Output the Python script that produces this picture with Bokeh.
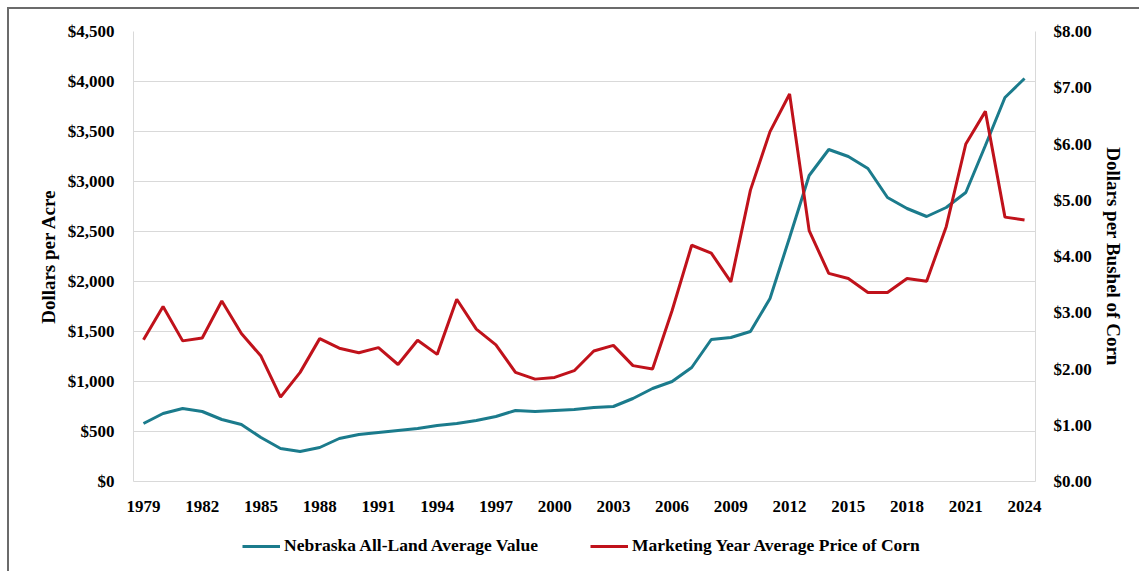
from bokeh.plotting import figure
from bokeh.layouts import column
from bokeh.models import (Range1d, LinearAxis, FixedTicker, NumeralTickFormatter,
                          Legend, LegendItem, ColumnDataSource)
from bokeh.embed import file_html
from bokeh.resources import INLINE

years = list(range(1979, 2025))
land_value = [580, 680, 730, 700, 620, 570, 440, 330, 300, 340,
              430, 470, 490, 510, 530, 560, 580, 610, 650, 710,
              700, 710, 720, 740, 750, 830, 930, 1000, 1140, 1420,
              1440, 1500, 1830, 2440, 3060, 3320, 3250, 3130, 2840, 2730,
              2650, 2740, 2890, 3360, 3840, 4030]
corn_price = [2.52, 3.11, 2.50, 2.55, 3.21, 2.63, 2.23, 1.50, 1.94, 2.54,
              2.37, 2.29, 2.38, 2.08, 2.51, 2.26, 3.24, 2.71, 2.43, 1.94,
              1.82, 1.85, 1.97, 2.32, 2.42, 2.06, 2.00, 3.04, 4.20, 4.06,
              3.55, 5.18, 6.22, 6.89, 4.46, 3.70, 3.61, 3.36, 3.36, 3.61,
              3.56, 4.53, 6.00, 6.58, 4.70, 4.65]
series_names = ["Nebraska All-Land Average Value", "Marketing Year Average Price of Corn"]
x_ticks = list(range(1979, 2025, 3))
left_ticks = list(range(0, 4501, 500))
right_ticks = list(range(0, 9))

FONT = "Liberation Serif"
GRID = "#d9d9d9"
BLUE = "#1b7b8c"
RED = "#c0121b"

src = ColumnDataSource(dict(year=years, land=land_value, corn=corn_price))

p = figure(frame_width=902, frame_height=450, output_backend="svg", toolbar_location=None,
           x_range=Range1d(1978.49, 2024.56), y_range=Range1d(0, 4500),
           min_border_left=124, min_border_right=104, min_border_top=22, min_border_bottom=40,
           background_fill_color="white", border_fill_color="white")
p.outline_line_color = None
p.extra_y_ranges = {"corn": Range1d(0, 8)}

r1 = p.line("year", "land", source=src, line_color=BLUE, line_width=3)
r2 = p.line("year", "corn", source=src, line_color=RED, line_width=3, y_range_name="corn")

# grid
p.xgrid.grid_line_color = None
p.ygrid.grid_line_color = GRID
p.ygrid.grid_line_width = 1
p.ygrid.ticker = FixedTicker(ticks=left_ticks)

def style_axis(ax):
    ax.axis_line_color = GRID
    ax.axis_line_width = 1
    ax.major_tick_line_color = None
    ax.minor_tick_line_color = None
    ax.major_tick_out = 0
    ax.major_tick_in = 0
    ax.major_label_text_font = FONT
    ax.major_label_text_font_style = "bold"
    ax.major_label_text_font_size = "17px"
    ax.major_label_text_color = "black"
    ax.axis_label_text_font = FONT
    ax.axis_label_text_font_style = "bold"
    ax.axis_label_text_font_size = "19px"
    ax.axis_label_text_color = "black"

# x axis
xa = p.xaxis[0]
style_axis(xa)
xa.ticker = FixedTicker(ticks=x_ticks)
xa.major_label_standoff = 19

# left axis
ya = p.yaxis[0]
style_axis(ya)
ya.ticker = FixedTicker(ticks=left_ticks)
ya.formatter = NumeralTickFormatter(format="$0,0")
ya.major_label_standoff = 19
ya.axis_label = "Dollars per Acre"
ya.axis_label_standoff = 6

# right axis
ra = LinearAxis(y_range_name="corn")
style_axis(ra)
ra.ticker = FixedTicker(ticks=right_ticks)
ra.formatter = NumeralTickFormatter(format="$0.00")
ra.major_label_standoff = 18
ra.axis_label = "Dollars per Bushel of Corn"
ra.axis_label_standoff = 8
p.add_layout(ra, "right")

# legend strip below the chart (its sample lines lie outside its ranges, only the legend shows)
leg = figure(width=1130, height=50, output_backend="svg", toolbar_location=None,
             x_range=Range1d(0, 1), y_range=Range1d(0, 1),
             x_axis_location=None, y_axis_location=None,
             min_border_left=0, min_border_right=0, min_border_top=0, min_border_bottom=0,
             background_fill_color="white", border_fill_color="white")
leg.outline_line_color = None
leg.xgrid.grid_line_color = None
leg.ygrid.grid_line_color = None
l1 = leg.line("year", "land", source=src, line_color=BLUE, line_width=3)
l2 = leg.line("year", "corn", source=src, line_color=RED, line_width=3)

legend = Legend(items=[LegendItem(label=series_names[0], renderers=[l1]),
                       LegendItem(label=series_names[1], renderers=[l2])],
                orientation="horizontal", location=(109, 15),
                border_line_color=None, background_fill_alpha=0,
                padding=0, margin=0, spacing=52, glyph_width=38, glyph_height=20,
                label_height=20, label_standoff=4, label_text_font=FONT,
                label_text_font_style="bold",
                label_text_font_size="17.5px", label_text_color="black")
leg.add_layout(legend)

layout = column(p, leg, spacing=0)
layout.styles = {"margin-left": "7px", "margin-top": "7px",
                 "border-left": "2px solid #6b6b6b", "border-top": "2px solid #6b6b6b"}

open("out.html", "w").write(file_html(layout, INLINE))
